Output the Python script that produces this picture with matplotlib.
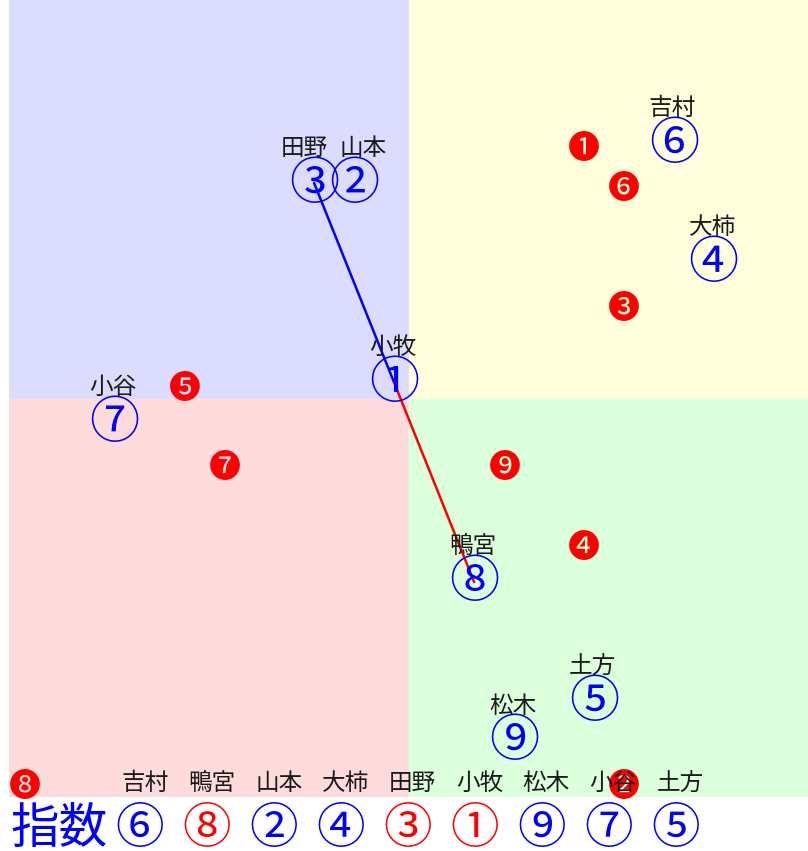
import matplotlib
matplotlib.use('Agg')
import matplotlib.pyplot as plt
from matplotlib.patches import Rectangle

plt.rcParams['font.family'] = ['Noto Sans CJK JP', 'DejaVu Sans']

# people: number -> name, grid position of the blue marker
numbers = [1, 2, 3, 4, 5, 6, 7, 8, 9]
names = ['小牧', '山本', '田野', '大柿', '土方', '吉村', '小谷', '鴨宮', '松木']
blue_x = [9, 8, 7, 17, 14, 16, 2, 11, 12]
blue_y = [10, 15, 15, 13, 2, 16, 9, 5, 1]

# red filled markers
red_x = [14, 15, 15, 14, 4, 15, 5, 0, 12]
red_y = [16, 0, 12, 6, 10, 15, 8, 0, 8]

# route through the grid
path = [3, 1, 8]

# index row at the bottom
index_order = [6, 8, 2, 4, 3, 1, 9, 7, 5]

circled = '①②③④⑤⑥⑦⑧⑨'
negative = '❶❷❸❹❺❻❼❽❾'

fig = plt.figure(figsize=(8.08, 8.51), dpi=100)
ax = fig.add_axes([9 / 808, 54 / 851, 799 / 808, 797 / 851])
ax.set_xlim(0, 20)
ax.set_ylim(0, 20)
ax.axis('off')

# quadrant backgrounds
ax.add_patch(Rectangle((0, 10), 10, 10, color='#dcdcff', zorder=0))
ax.add_patch(Rectangle((10, 10), 10, 10, color='#ffffdc', zorder=0))
ax.add_patch(Rectangle((0, 0), 10, 10, color='#ffdcdc', zorder=0))
ax.add_patch(Rectangle((10, 0), 10, 10, color='#dcffdc', zorder=0))

# red markers
for i, n in enumerate(numbers):
    ax.text(red_x[i] + 0.4, red_y[i] + 0.25, negative[n - 1], color='red',
            fontsize=23, ha='center', va='center', zorder=3)

# route lines
pts = [(blue_x[n - 1] + 0.64, blue_y[n - 1] + 0.4) for n in path]
ax.plot([pts[0][0], pts[1][0]], [pts[0][1], pts[1][1]], color='blue', lw=1.8, zorder=4)
ax.plot([pts[1][0], pts[2][0]], [pts[1][1], pts[2][1]], color='red', lw=1.8, zorder=4)

# blue markers with names
nudge = {'田野': -0.22, '山本': 0.25}
for i, n in enumerate(numbers):
    cx = blue_x[i] + 0.64
    cy = blue_y[i] + 0.45
    ax.text(cx, cy - 0.08, circled[n - 1], color='blue', fontsize=36,
            ha='center', va='center', zorder=5)
    ax.text(cx - 0.03 + nudge.get(names[i], 0), cy + 0.83, names[i], color='#1a1a1a',
            fontsize=17, ha='center', va='center', zorder=5)

# index row
ax.text(0.05, -0.82, '指数', color='blue', fontsize=35, ha='left', va='center',
        clip_on=False)
for k, n in enumerate(index_order):
    x = 3.28 + k * 1.675
    c = 'red' if n in path else 'blue'
    ax.text(x, -0.82, circled[n - 1], color=c, fontsize=35, ha='center', va='center',
            clip_on=False)
    ax.text(x + 0.12, 0.35, names[n - 1], color='#1a1a1a', fontsize=17,
            ha='center', va='center', zorder=5)

fig.savefig('out.png', dpi=100)
